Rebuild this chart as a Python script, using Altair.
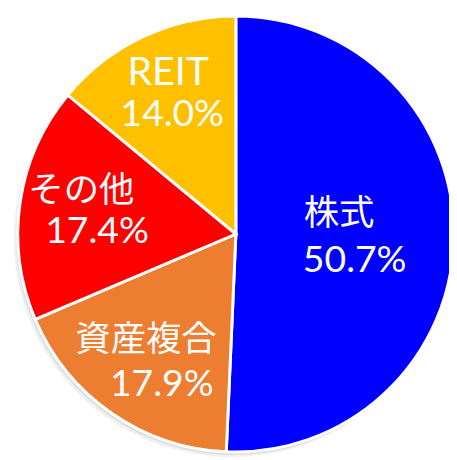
import altair as alt
import pandas as pd

categories = ["株式", "資産複合", "その他", "REIT"]
values = [50.7, 17.9, 17.4, 14.0]
colors = ["#0000FF", "#ED7D31", "#FF0000", "#FFC000"]

df = pd.DataFrame({
    "category": categories,
    "value": values,
    "order": list(range(len(categories))),
})

CX, CY, R = 232, 226, 222
FONT = "Lato, 'Noto Sans CJK JP', sans-serif"

base = alt.Chart(df).transform_calculate(
    pct="format(datum.value, '.1f') + '%'"
)

theta = alt.Theta("value:Q", stack=True)
order = alt.Order("order:Q")

shadow1 = base.mark_arc(radius=R, color="#9a9a9a", opacity=0.22).encode(
    theta=theta, order=order, x=alt.value(CX - 2), y=alt.value(CY + 3)
)
shadow2 = base.mark_arc(radius=R, color="#9a9a9a", opacity=0.15).encode(
    theta=theta, order=order, x=alt.value(CX - 4), y=alt.value(CY + 5)
)

arcs = base.mark_arc(radius=R, stroke="white", strokeWidth=3).encode(
    theta=theta,
    order=order,
    color=alt.Color("category:N", scale=alt.Scale(domain=categories, range=colors), legend=None),
    x=alt.value(CX),
    y=alt.value(CY),
)

def label(field, radius, dy, main, size, dx):
    test = "datum.order === 0" if main else "datum.order !== 0"
    return base.transform_calculate(
        lab=f"({test}) ? datum.{field} : ''"
    ).mark_text(
        radius=radius, dy=dy, dx=dx, font=FONT, fontSize=size, color="white",
        align="center", baseline="alphabetic"
    ).encode(
        theta=theta, order=order, text="lab:N",
        x=alt.value(CX), y=alt.value(CY),
    )

name_dx = -2
pct_dx = alt.expr("datum.order === 3 ? 2 : 14")
name_size = alt.expr("datum.order === 3 ? 40 : 36")
pct_dy = alt.expr("datum.order === 1 ? 36 : 32")

chart = alt.layer(
    shadow2, shadow1, arcs,
    label("category", 107, -12, True, 36, name_dx),
    label("pct", 107, 36, True, 38, pct_dx),
    label("category", 157, -10, False, name_size, name_dx),
    label("pct", 157, pct_dy, False, 38, pct_dx),
).properties(
    width=449, height=452, padding=0,
    autosize=alt.AutoSizeParams(type="none"),
).configure_view(stroke=None)

chart.save("out.html", embed_options={"renderer": "svg", "actions": False})
